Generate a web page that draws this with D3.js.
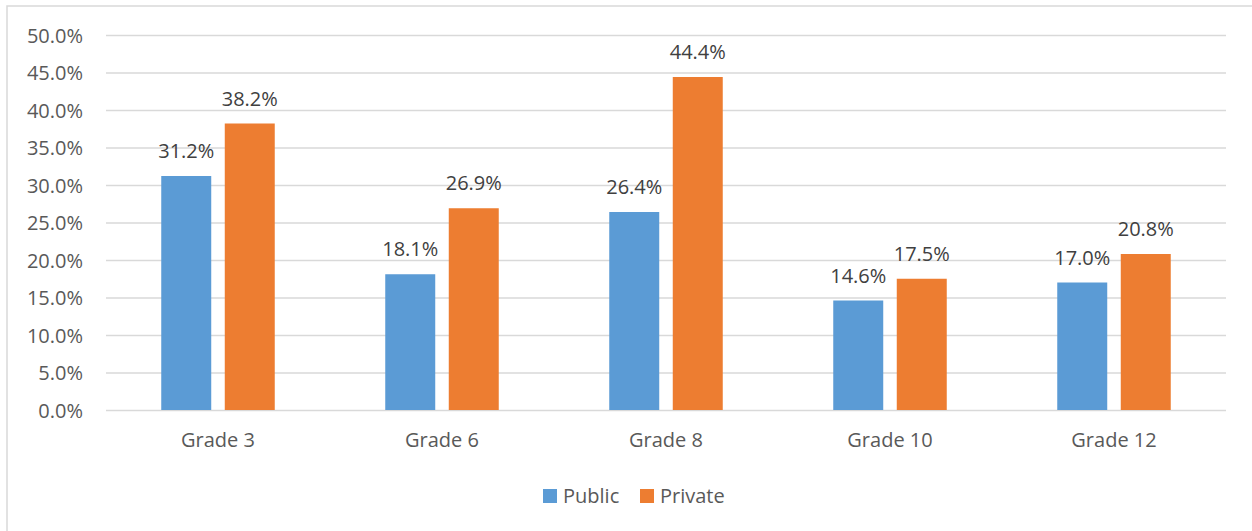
<!DOCTYPE html>
<html><head><meta charset="utf-8">
<script src="https://cdn.jsdelivr.net/npm/d3@7"></script>
<style>body{margin:0;background:#fff;}svg{display:block;}</style>
</head><body>
<svg id="c" width="1252" height="531"></svg>
<script>
const categories = ["Grade 3","Grade 6","Grade 8","Grade 10","Grade 12"];
const seriesNames = ["Public","Private"];
const publicValues = [31.2, 18.1, 26.4, 14.6, 17.0];
const privateValues = [38.2, 26.9, 44.4, 17.5, 20.8];
const yTicks = [0,5,10,15,20,25,30,35,40,45,50];
const colors = ["#5B9BD5","#ED7D31"];

(function(){
const svg = d3.select("#c");
const font = "'Open Sans', sans-serif";
const txt = "#595959";
const fs = 20;

svg.append("rect").attr("x",7).attr("y",6).attr("width",1260).attr("height",540)
  .attr("fill","#fff").attr("stroke","#d9d9d9").attr("stroke-width",1.5);

const pL=106, pR=1226, pT=35, pB=410;
const y = d3.scaleLinear().domain([0,50]).range([pB, pT]);
const x0 = d3.scaleBand().domain(categories).range([pL,pR]);
const x1 = d3.scaleBand().domain(seriesNames).range([-56.75,56.75]).paddingInner(0.213);

const yAxis = d3.axisLeft(y).tickValues(yTicks).tickSize(-(pR-pL)).tickPadding(23)
  .tickFormat(d=>d.toFixed(1)+"%");
const gy = svg.append("g").attr("transform",`translate(${pL},0)`).call(yAxis);
gy.select(".domain").remove();
gy.selectAll(".tick line").attr("stroke","#d9d9d9").attr("stroke-width",1.3);
gy.selectAll(".tick text").attr("fill",txt).attr("font-family",font).attr("font-size",fs).attr("dy","0.35em");

const xAxis = d3.axisBottom(x0).tickSize(0).tickPadding(23);
const gx = svg.append("g").attr("transform",`translate(0,${pB})`).call(xAxis);
gx.select(".domain").remove();
gx.selectAll(".tick text").attr("fill",txt).attr("font-family",font).attr("font-size",fs);

const data = categories.map((c,i)=>({cat:c, vals:[publicValues[i], privateValues[i]]}));
const groups = svg.append("g").selectAll("g").data(data).join("g")
  .attr("transform",d=>`translate(${x0(d.cat)+x0.bandwidth()/2},0)`);
groups.selectAll("rect").data(d=>d.vals.map((v,j)=>({s:seriesNames[j],v,j}))).join("rect")
  .attr("x",d=>x1(d.s)).attr("width",x1.bandwidth())
  .attr("y",d=>y(d.v)).attr("height",d=>pB-y(d.v))
  .attr("fill",d=>colors[d.j]);
groups.selectAll("text").data(d=>d.vals.map((v,j)=>({s:seriesNames[j],v,j}))).join("text")
  .attr("x",d=>x1(d.s)+x1.bandwidth()/2).attr("y",d=>y(d.v)-18)
  .attr("text-anchor","middle").attr("fill","#404040").attr("font-family",font).attr("font-size",fs)
  .text(d=>d.v.toFixed(1)+"%");

const legend = [{n:"Public",x:543},{n:"Private",x:640}];
const lg = svg.append("g");
legend.forEach((l,i)=>{
  lg.append("rect").attr("x",l.x).attr("y",489).attr("width",14).attr("height",14).attr("fill",colors[i]);
  lg.append("text").attr("x",l.x+20).attr("y",503).attr("fill",txt).attr("font-family",font).attr("font-size",fs).text(l.n);
});
})();
</script>
</body></html>
